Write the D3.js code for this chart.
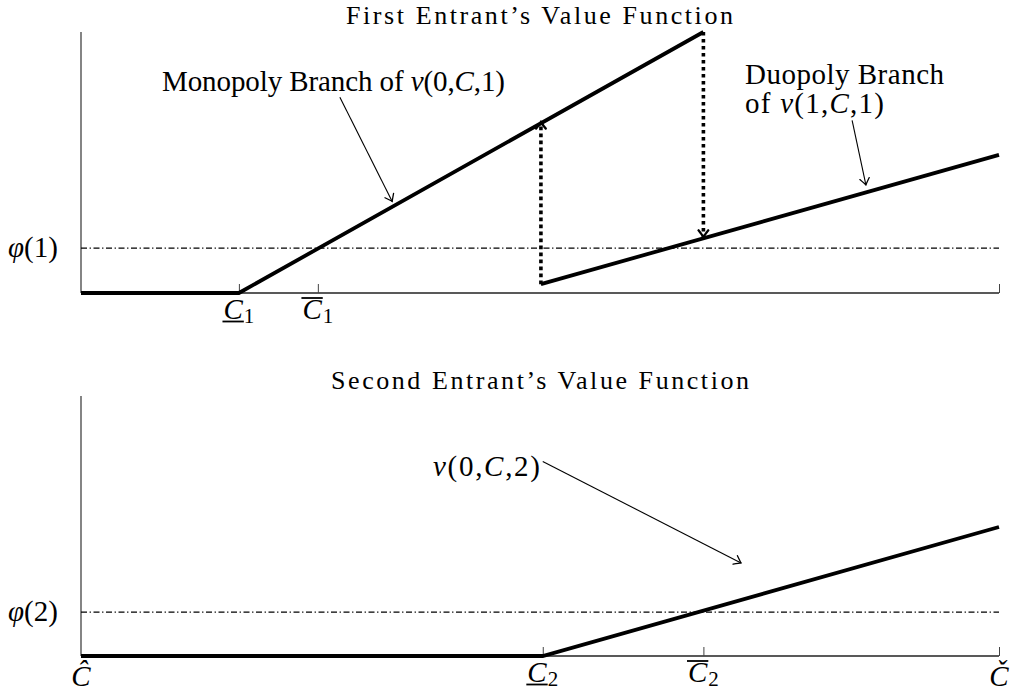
<!DOCTYPE html>
<html>
<head>
<meta charset="utf-8">
<script src="https://cdn.jsdelivr.net/npm/d3@7"></script>
<style>
  html, body { margin: 0; padding: 0; background: #fff; }
  svg { display: block; }
  text { font-family: "Liberation Serif", "DejaVu Serif", serif; fill: #000; }
</style>
</head>
<body>
<svg id="chart" width="1010" height="694"></svg>
<script>
// ---------- data (normalised: C from Ĉ=0 to Č=1, values as share of axis height) ----------
const titles = ["First Entrant\u2019s Value Function", "Second Entrant\u2019s Value Function"];
// Panel 1: first entrant
const cut1 = [0.172, 0.258];            // C_1 (lower), C̄_1 (upper)
const phi1 = 0.172;                     // φ(1)
const monoX = [0, 0.172, 0.678];        // monopoly branch of v(0,C,1)
const monoY = [0, 0, 1.0];
const duoX = [0.501, 1];                // duopoly branch of v(1,C,1)
const duoY = [0.034, 0.529];
const jumpUp = {x: 0.501, from: 0.034, to: 0.655};
const jumpDown = {x: 0.678, from: 1.0, to: 0.215};
// Panel 2: second entrant
const cut2 = [0.503, 0.678];            // C_2 (lower), C̄_2 (upper)
const phi2 = 0.169;                     // φ(2)
const v2X = [0, 0.503, 1];
const v2Y = [0, 0, 0.496];
// annotation arrows [x0,y0,x1,y1] in data units
const ann1 = [0.282, 0.750, 0.339, 0.351];
const ann2 = [0.840, 0.661, 0.855, 0.414];
const ann3 = [0.503, 0.748, 0.719, 0.358];

// ---------- layout ----------
const svg = d3.select("#chart");
const x = d3.scaleLinear().domain([0, 1]).range([81, 999]);
const yTop = d3.scaleLinear().domain([0, 1]).range([293, 32]);
const yBot = d3.scaleLinear().domain([0, 1]).range([656, 396]);
const FS = 29;
const TFS = 26;

const defs = svg.append("defs");
function marker(id, sw, s) {
  defs.append("marker").attr("id", id)
    .attr("viewBox", "-9 -7 11 14").attr("refX", 0).attr("refY", 0)
    .attr("markerWidth", 11 * s).attr("markerHeight", 14 * s)
    .attr("markerUnits", "userSpaceOnUse").attr("orient", "auto")
    .append("path").attr("d", "M-6.5,-4.8 Q-1.5,-1 0,0 Q-1.5,1 -6.5,4.8")
    .attr("fill", "none").attr("stroke", "#000").attr("stroke-width", sw)
    .attr("stroke-linecap", "round");
}
marker("arrThin", 1.3, 1);
marker("arrThick", 2.4, 1);

function fitText(sel, w) {
  sel.attr("textLength", w).attr("lengthAdjust", "spacing");
  return sel;
}

function drawPanel(y, ticks, phi, phiLabel, title, titleY, titleX0, titleW) {
  const g = svg.append("g");
  fitText(g.append("text").attr("x", titleX0).attr("y", titleY)
    .attr("font-size", TFS).text(title), titleW);
  g.append("line").attr("x1", x(0)).attr("x2", x(0)).attr("y1", y(0)).attr("y2", y(1))
    .attr("stroke", "#333").attr("stroke-width", 1.2);
  const ax = d3.axisBottom(x).tickValues(ticks.concat([1])).tickSize(-9).tickFormat("");
  const axg = g.append("g").attr("transform", `translate(0,${y(0)})`).call(ax);
  axg.select(".domain").attr("d", `M${x(0)},0H${x(1)}`).attr("stroke", "#222").attr("stroke-width", 1.3);
  axg.selectAll(".tick line").attr("stroke", "#444").attr("stroke-width", 1);
  g.append("line").attr("x1", x(0)).attr("x2", x(1)).attr("y1", y(phi)).attr("y2", y(phi))
    .attr("stroke", "#000").attr("stroke-width", 1.2).attr("stroke-dasharray", "6,2.6,1.3,2.6");
  const t = g.append("text").attr("x", 8).attr("y", y(phi) + 9).attr("font-size", FS);
  t.append("tspan").attr("font-style", "italic").text("\u03c6");
  t.append("tspan").text(phiLabel);
  fitText(t, 50);
  return g;
}

function cLabel(g, cx, baseline, sub, bar) {
  const lg = g.append("g");
  const c = lg.append("text").attr("y", baseline).attr("font-size", 29)
    .attr("font-style", "italic").text("C");
  const cw = c.node().getComputedTextLength();
  const s = lg.append("text").attr("x", cw + 1).attr("y", baseline + 4)
    .attr("font-size", 21).text(sub);
  const sw = s.node().getComputedTextLength();
  const total = cw + 1 + sw;
  lg.attr("transform", `translate(${cx - total / 2},0)`);
  const barY = bar === "under" ? baseline + 2.5 : baseline - 21;
  lg.append("line").attr("x1", -1).attr("x2", cw + 1).attr("y1", barY).attr("y2", barY)
    .attr("stroke", "#000").attr("stroke-width", 1.8);
}

function mathText(g, x0, y0, prefix, args, w) {
  const t = g.append("text").attr("x", x0).attr("y", y0).attr("font-size", FS);
  if (prefix) t.append("tspan").text(prefix);
  t.append("tspan").attr("font-style", "italic").text("v");
  t.append("tspan").text("(" + args[0] + ",");
  t.append("tspan").attr("font-style", "italic").text("C");
  t.append("tspan").text("," + args[1] + ")");
  fitText(t, w);
  return t;
}

function arrow(g, y, a) {
  g.append("line").attr("x1", x(a[0])).attr("y1", y(a[1]))
    .attr("x2", x(a[2])).attr("y2", y(a[3]))
    .attr("stroke", "#000").attr("stroke-width", 1.1).attr("marker-end", "url(#arrThin)");
}

// ----- panel 1 -----
const g1 = drawPanel(yTop, cut1, phi1, "(1)", titles[0], 24, 346, 387);
const line1 = d3.line().x((d) => x(d[0])).y((d) => yTop(d[1]));
[jumpUp, jumpDown].forEach((j) => {
  g1.append("line").attr("x1", x(j.x)).attr("x2", x(j.x))
    .attr("y1", yTop(j.from)).attr("y2", yTop(j.to))
    .attr("stroke", "#000").attr("stroke-width", 3.6).attr("stroke-dasharray", "3.6,3.4")
    .attr("marker-end", "url(#arrThick)");
});
g1.append("path").datum(d3.zip(monoX, monoY)).attr("d", line1)
  .attr("fill", "none").attr("stroke", "#000").attr("stroke-width", 3.8);
g1.append("path").datum(d3.zip(duoX, duoY)).attr("d", line1)
  .attr("fill", "none").attr("stroke", "#000").attr("stroke-width", 3.8);
cLabel(g1, x(cut1[0]), 319, "1", "under");
cLabel(g1, x(cut1[1]), 319, "1", "over");
arrow(g1, yTop, ann1);
mathText(g1, 162, 91, "Monopoly Branch of ", ["0", "1"], 343);
arrow(g1, yTop, ann2);
fitText(g1.append("text").attr("x", 745).attr("y", 84).attr("font-size", FS).text("Duopoly Branch"), 199);
mathText(g1, 745, 113, "of ", ["1", "1"], 139);

// ----- panel 2 -----
const g2 = drawPanel(yBot, cut2, phi2, "(2)", titles[1], 389, 331, 418);
const line2 = d3.line().x((d) => x(d[0])).y((d) => yBot(d[1]));
g2.append("path").datum(d3.zip(v2X, v2Y)).attr("d", line2)
  .attr("fill", "none").attr("stroke", "#000").attr("stroke-width", 3.8);
cLabel(g2, x(cut2[0]), 682, "2", "under");
cLabel(g2, x(cut2[1]), 682, "2", "over");
g2.append("text").attr("x", x(0)).attr("y", 686).attr("text-anchor", "middle")
  .attr("font-size", 29).attr("font-style", "italic").text("\u0108");
g2.append("text").attr("x", x(1)).attr("y", 686).attr("text-anchor", "middle")
  .attr("font-size", 29).attr("font-style", "italic").text("\u010C");
arrow(g2, yBot, ann3);
mathText(g2, 433, 476, "", ["0", "2"], 107);
</script>
</body>
</html>
